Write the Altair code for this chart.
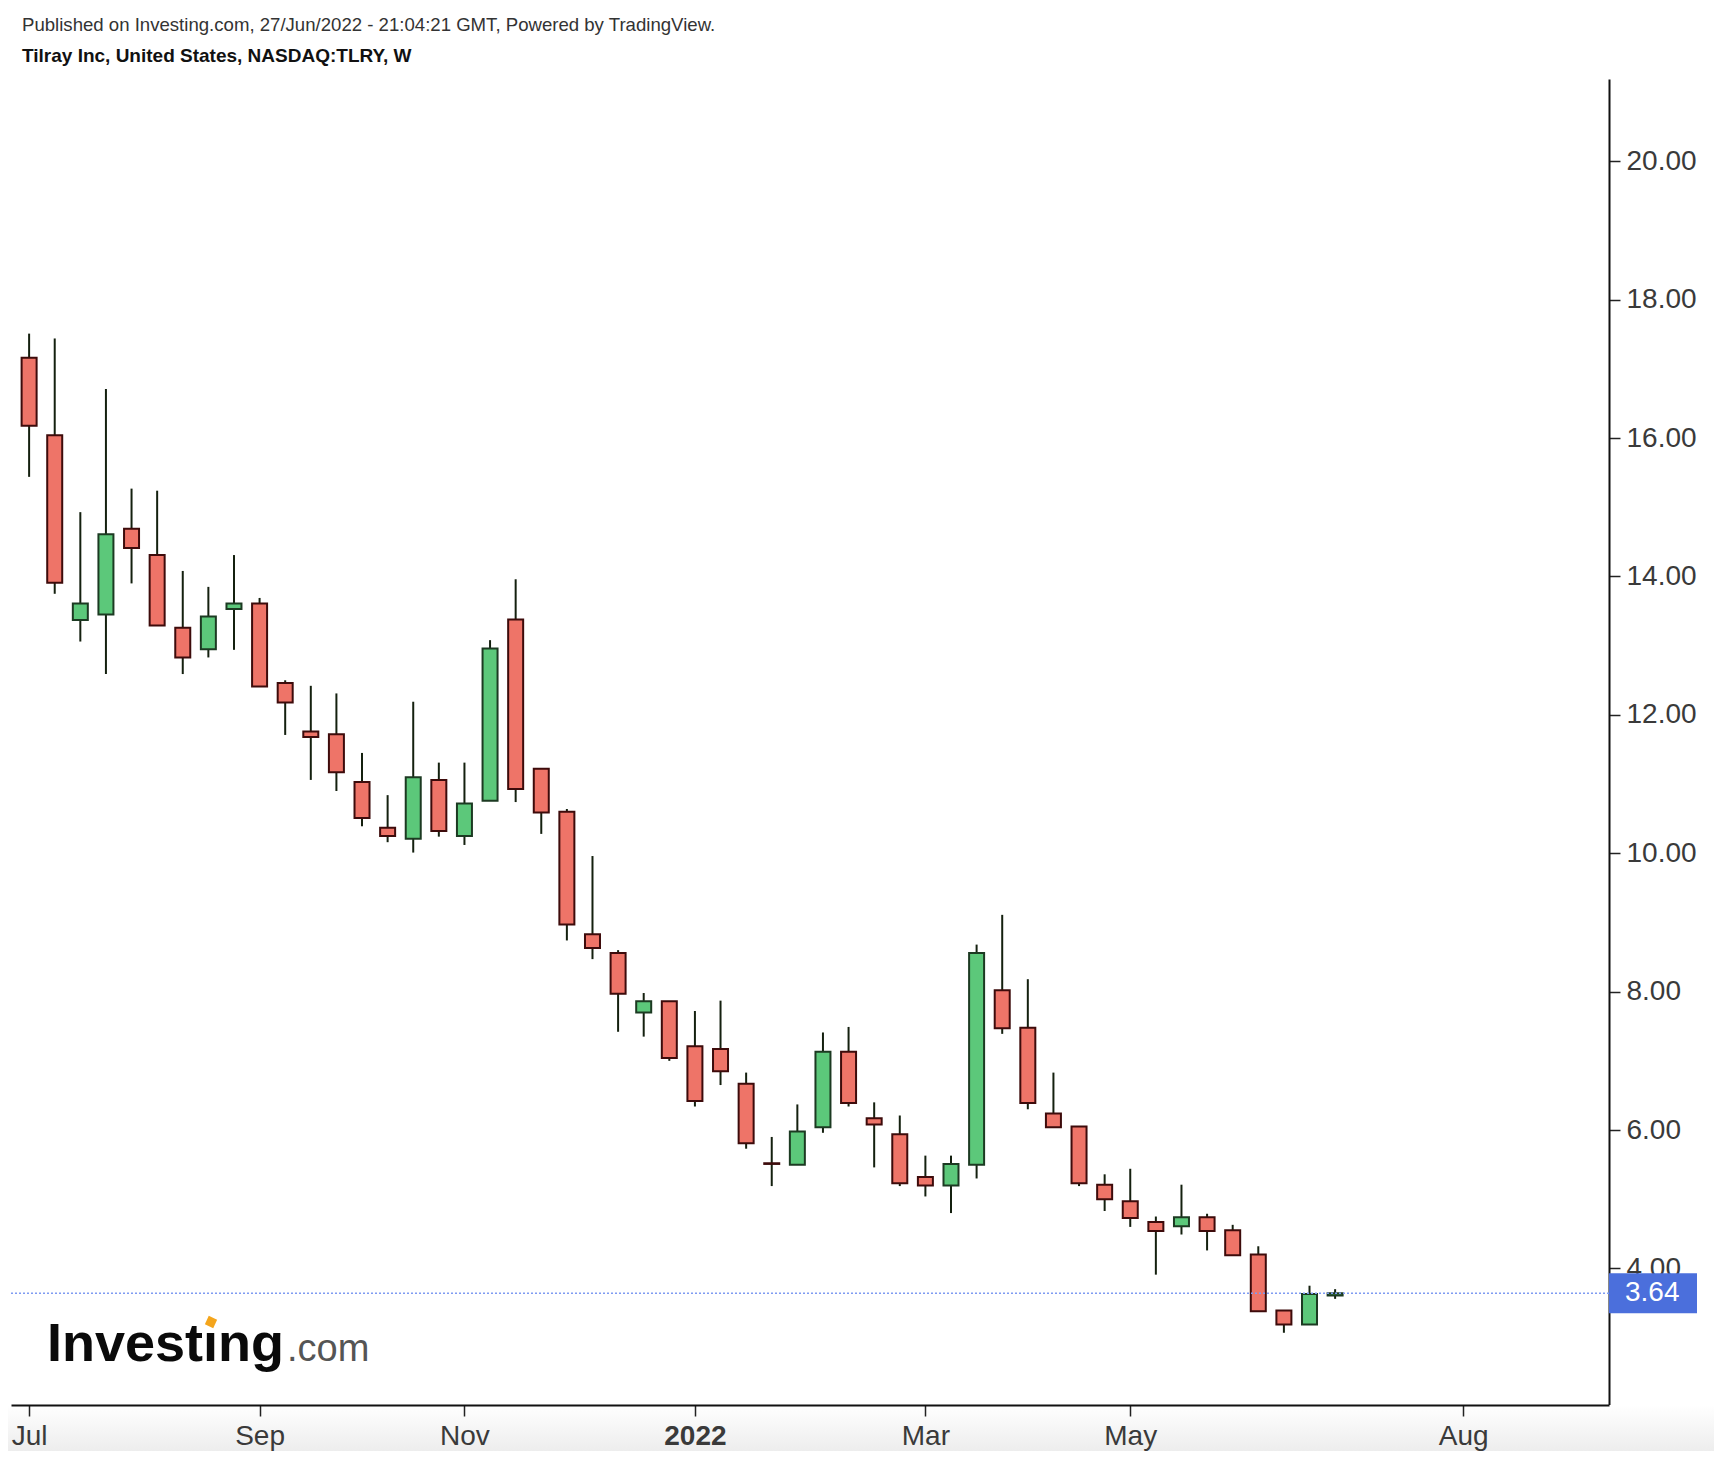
import altair as alt
import pandas as pd

# Weekly OHLC, TLRY (bar index 0 = first weekly bar shown)
opens  = [17.16, 16.04, 13.37, 13.45, 14.69, 14.31, 13.26, 12.95, 13.53, 13.61,
          12.46, 11.76, 11.72, 11.03, 10.37, 10.21, 11.06, 10.25, 10.76, 13.38,
          11.22, 10.60, 8.83, 8.56, 7.70, 7.86, 7.21, 7.17, 6.67, 5.52,
          5.50, 6.04, 7.13, 6.17, 5.94, 5.32, 5.20, 5.50, 8.02, 7.48,
          6.24, 6.05, 5.21, 4.97, 4.67, 4.61, 4.74, 4.55, 4.20, 3.39,
          3.19, 3.61]
highs  = [17.51, 17.44, 14.93, 16.71, 15.27, 15.24, 14.08, 13.85, 14.31, 13.69,
          12.50, 12.42, 12.31, 11.45, 10.84, 12.19, 11.31, 11.31, 13.08, 13.96,
          11.22, 10.64, 9.96, 8.60, 7.98, 7.86, 7.72, 7.87, 6.83, 5.90,
          6.37, 7.41, 7.49, 6.40, 6.21, 5.63, 5.63, 8.68, 9.11, 8.18,
          6.83, 6.05, 5.36, 5.44, 4.75, 5.21, 4.79, 4.63, 4.32, 3.39,
          3.75, 3.70]
lows   = [15.44, 13.75, 13.06, 12.59, 13.90, 13.29, 12.59, 12.83, 12.94, 12.41,
          11.71, 11.06, 10.90, 10.39, 10.16, 10.01, 10.24, 10.12, 10.76, 10.74,
          10.28, 8.74, 8.47, 7.42, 7.35, 7.00, 6.34, 6.65, 5.73, 5.19,
          5.50, 5.96, 6.34, 5.46, 5.19, 5.04, 4.80, 5.30, 7.39, 6.30,
          6.04, 5.19, 4.83, 4.60, 3.91, 4.49, 4.26, 4.19, 3.38, 3.07,
          3.19, 3.56]
closes = [16.18, 13.91, 13.61, 14.61, 14.41, 13.29, 12.83, 13.42, 13.61, 12.41,
          12.18, 11.68, 11.17, 10.51, 10.25, 11.10, 10.32, 10.72, 12.96, 10.93,
          10.59, 8.97, 8.63, 7.97, 7.86, 7.04, 6.42, 6.85, 5.81, 5.51,
          5.98, 7.13, 6.39, 6.08, 5.23, 5.20, 5.51, 8.56, 7.47, 6.39,
          6.04, 5.23, 5.00, 4.73, 4.54, 4.74, 4.54, 4.19, 3.38, 3.19,
          3.63, 3.64]
bar_index = list(range(len(opens)))

x_tick_values = [0, 9, 17, 26, 35, 43, 56]
x_tick_labels = ["Jul", "Sep", "Nov", "2022", "Mar", "May", "Aug"]
y_tick_values = [4, 6, 8, 10, 12, 14, 16, 18, 20]
last_price = 3.64
last_price_label = "3.64"

header_line1 = "Published on Investing.com, 27/Jun/2022 - 21:04:21 GMT, Powered by TradingView."
header_line2 = "Tilray Inc, United States, NASDAQ:TLRY, W"

df = pd.DataFrame({"i": bar_index, "open": opens, "high": highs,
                   "low": lows, "close": closes})
df["dir"] = ["up" if c >= o else "down" for o, c in zip(opens, closes)]

W, H = 1598, 1326
FONT = "Liberation Sans"

xscale = alt.Scale(domain=[-0.512, 61.5], nice=False, zero=False)
yscale = alt.Scale(domain=[2.026, 21.19], nice=False, zero=False)

label_expr = "".join(f"datum.value == {v} ? '{l}' : " for v, l in zip(x_tick_values, x_tick_labels)) + "''"
bold_value = x_tick_values[x_tick_labels.index("2022")]

xaxis = alt.Axis(values=x_tick_values, labelExpr=label_expr, orient="bottom",
                 domainColor="#111", domainWidth=2, tickColor="#222", tickWidth=1.5,
                 tickSize=11, labelFontSize=28, labelFont=FONT, labelColor="#3a3a3a",
                 labelPadding=6, grid=False, title=None, labelFlush=False,
                 labelOverlap=False, labelBound=False, zindex=1,
                 labelFontWeight={"expr": f"datum.value == {bold_value} ? 'bold' : 'normal'"})
yaxis = alt.Axis(orient="right", values=y_tick_values, format=".2f",
                 domainColor="#111", domainWidth=2, tickColor="#222", tickWidth=1.5,
                 tickSize=11, labelFontSize=28, labelFont=FONT, labelColor="#3a3a3a",
                 labelPadding=6, grid=False, title=None, labelOverlap=False,
                 labelFlush=False, labelBound=False)

# subtle grey gradient band below the plot (page footer look)
fdf = pd.DataFrame({"k": [0]})
footer = alt.Chart(fdf).mark_rect(
    color={"gradient": "linear", "x1": 0, "y1": 0, "x2": 0, "y2": 1,
           "stops": [{"offset": 0, "color": "#ffffff"}, {"offset": 1, "color": "#ededed"}]}
).encode(x=alt.value(-3), x2=alt.value(W + 105), y=alt.value(H), y2=alt.value(H + 46))

base = alt.Chart(df)
wicks = base.mark_rule(strokeWidth=2, color="#14200f").encode(
    x=alt.X("i:Q", scale=xscale, axis=xaxis),
    y=alt.Y("low:Q", scale=yscale, axis=yaxis),
    y2="high:Q",
)
bodies = base.mark_bar(size=15, strokeWidth=2).encode(
    x=alt.X("i:Q", scale=xscale, axis=xaxis),
    y=alt.Y("open:Q", scale=yscale, axis=yaxis),
    y2="close:Q",
    fill=alt.Fill("dir:N", scale=alt.Scale(domain=["up", "down"], range=["#5cc87a", "#ee7468"]), legend=None),
    stroke=alt.Stroke("dir:N", scale=alt.Scale(domain=["up", "down"], range=["#1c3a22", "#3d0b0b"]), legend=None),
)

pdf = pd.DataFrame({"p": [last_price], "label": [last_price_label]})
pbase = alt.Chart(pdf)
pline = pbase.mark_rule(color="#7f9bf2", strokeDash=[2, 2], strokeWidth=1.5).encode(
    y=alt.Y("p:Q", scale=yscale, axis=yaxis), x=alt.value(0), x2=alt.value(W))
pbox = pbase.mark_rule(color="#4b6fdc", strokeWidth=40, strokeCap="butt").encode(
    y=alt.Y("p:Q", scale=yscale, axis=yaxis), x=alt.value(W), x2=alt.value(W + 88))
ptext = pbase.mark_text(color="white", fontSize=28, font=FONT, align="left", baseline="middle").encode(
    y=alt.Y("p:Q", scale=yscale, axis=yaxis), x=alt.value(W + 16), text="label:N")

hdf = pd.DataFrame({"t1": [header_line1], "t2": [header_line2]})
h1 = alt.Chart(hdf).mark_text(fontSize=18.6, font=FONT, color="#333333", align="left", baseline="middle").encode(
    x=alt.value(11), y=alt.value(-54), text="t1:N")
h2 = alt.Chart(hdf).mark_text(fontSize=19, font=FONT, fontWeight="bold", color="#111111", align="left", baseline="middle").encode(
    x=alt.value(11), y=alt.value(-23), text="t2:N")

ldf = pd.DataFrame({"a": ["Investıng"], "b": [".com"]})
logo1 = alt.Chart(ldf).mark_text(fontSize=54, font=FONT, fontWeight="bold", color="#0a0a0a", align="left", baseline="alphabetic").encode(
    x=alt.value(36), y=alt.value(1282), text="a:N")
logo2 = alt.Chart(ldf).mark_text(fontSize=38, font=FONT, color="#555555", align="left", baseline="alphabetic").encode(
    x=alt.value(276), y=alt.value(1282), text="b:N")
logo_dot = alt.Chart(ldf).mark_point(shape="square", filled=True, size=85, angle=25, color="#f4a51c", opacity=1).encode(
    x=alt.value(200), y=alt.value(1243))

chart = alt.layer(footer, wicks, bodies, pline, pbox, ptext, h1, h2, logo1, logo2, logo_dot).properties(
    width=W, height=H,
    padding={"left": 3, "top": 71, "right": 105, "bottom": 46},
    autosize=alt.AutoSizeParams(type="none"),
    background="white",
).configure_view(stroke=None)

chart.save("out.html", embed_options={"renderer": "svg", "actions": False})
